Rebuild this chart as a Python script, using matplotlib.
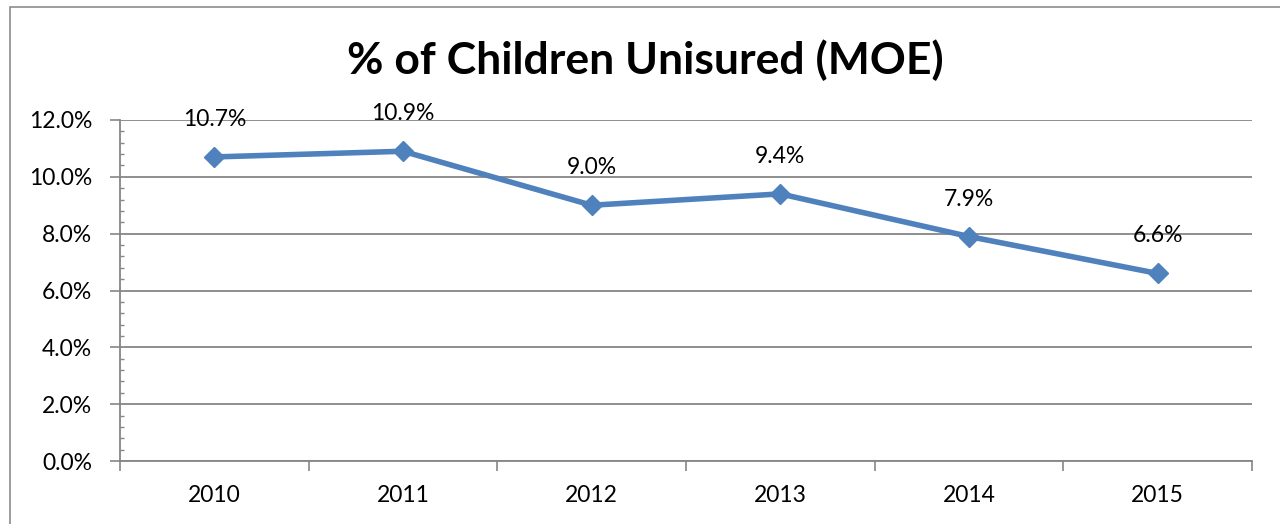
import matplotlib.pyplot as plt
from matplotlib.patches import Rectangle
from matplotlib.ticker import MultipleLocator, FixedLocator, FuncFormatter

# data
years = ['2010', '2011', '2012', '2013', '2014', '2015']
pct_uninsured = [10.7, 10.9, 9.0, 9.4, 7.9, 6.6]
title = '% of Children Unisured (MOE)'

plt.rcParams['font.family'] = ['Lato', 'DejaVu Sans']

fig = plt.figure(figsize=(12.8, 5.24), dpi=100)
fig.patch.set_facecolor('white')

# chart border (runs off the right/bottom edge like the reference crop)
border = Rectangle((10 / 1280, -0.2), 1.2, (524 - 7) / 524 + 0.2,
                   transform=fig.transFigure, fill=False,
                   edgecolor='#8c8c8c', linewidth=1.2)
fig.patches.append(border)

ax = fig.add_axes([120 / 1280, 63 / 524, 1132 / 1280, 341 / 524])

x = list(range(len(years)))
line_color = '#4F81BD'
ax.plot(x, pct_uninsured, color=line_color, linewidth=4,
        marker='D', markersize=10, zorder=3)

# data labels above points
for xi, v in zip(x, pct_uninsured):
    ax.annotate(f'{v:.1f}%', (xi, v), xytext=(0, 27), textcoords='offset points',
                ha='center', va='center', fontsize=16.5, color='black')

ax.set_xlim(-0.5, len(years) - 0.5)
ax.set_ylim(0, 12)

# y axis: major + minor ticks, percent format
ax.yaxis.set_major_locator(MultipleLocator(2))
ax.yaxis.set_minor_locator(MultipleLocator(0.4))
ax.yaxis.set_major_formatter(FuncFormatter(lambda v, p: f'{v:.1f}%'))
ax.tick_params(axis='y', which='major', length=7, width=1.2, color='#868686',
               labelsize=16.5, pad=13, direction='out')
ax.tick_params(axis='y', which='minor', length=3, width=1.0, color='#868686',
               direction='in')

# x axis: ticks between categories, labels centred
ax.xaxis.set_major_locator(FixedLocator([i - 0.5 for i in range(len(years) + 1)]))
ax.xaxis.set_major_formatter(FuncFormatter(lambda v, p: ''))
ax.xaxis.set_minor_locator(FixedLocator(x))
ax.set_xticklabels(years, minor=True)
ax.tick_params(axis='x', which='major', length=7, width=1.2, color='#868686',
               direction='out')
ax.tick_params(axis='x', which='minor', length=0, labelsize=16.5, pad=17)

ax.grid(True, axis='y', which='major', color='#868686', linewidth=1.3)
ax.set_axisbelow(True)

for side in ['top', 'right']:
    ax.spines[side].set_visible(False)
for side in ['left', 'bottom']:
    ax.spines[side].set_color('#868686')
    ax.spines[side].set_linewidth(1.3)

fig.text(645 / 1280, 1 - 60 / 524, title, ha='center', va='center',
         fontsize=32, fontweight='bold', color='black')

fig.savefig('out.png', dpi=100)
